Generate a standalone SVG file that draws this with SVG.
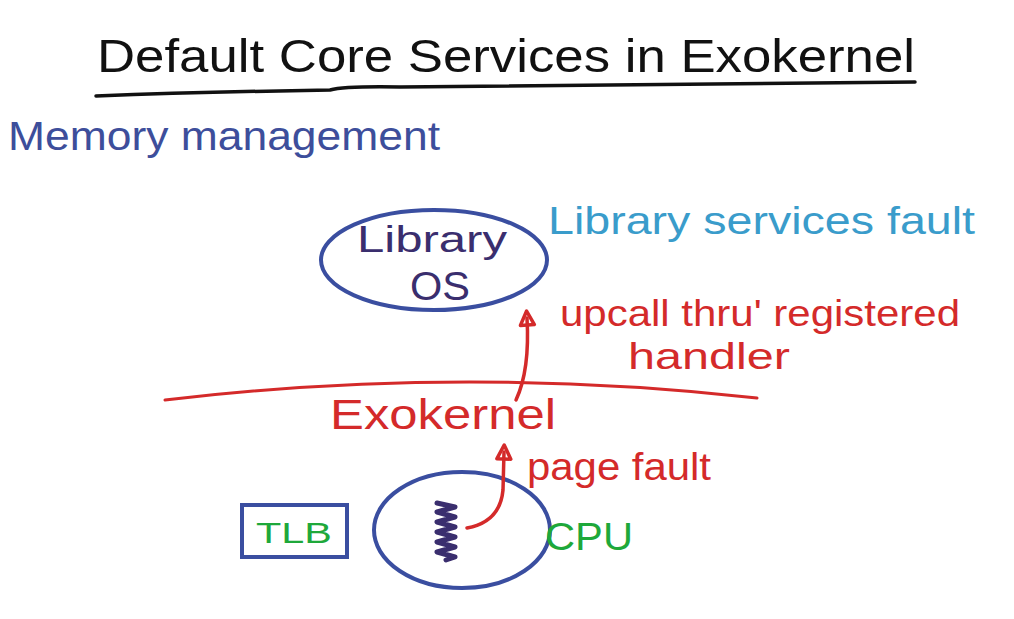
<svg xmlns="http://www.w3.org/2000/svg" width="1014" height="619" viewBox="0 0 1014 619">
<style>
text{font-family:"Liberation Sans","DejaVu Sans",sans-serif;}
.red{fill:#d42a2a;}
.blue{fill:#3d4e9b;}
.teal{fill:#3a9ccb;}
.green{fill:#1ea83a;}
.dark{fill:#3a2e6e;}
.line{fill:none;stroke-linecap:round;stroke-linejoin:round;}
.conn{fill:none;stroke:#d42a2a;stroke-width:3.5;stroke-linecap:round;stroke-linejoin:round;}
.shape{fill:none;stroke:#3a4ea0;stroke-width:4;}
</style>
<defs>
<marker id="ah" viewBox="0 0 20 20" refX="10" refY="10" markerWidth="20" markerHeight="20" orient="auto" markerUnits="userSpaceOnUse">
<path d="M3 3 L17 10 L3 17 Z" fill="none" stroke="#d42a2a" stroke-width="3.5" stroke-linejoin="round"/>
</marker>
</defs>
<rect width="1014" height="619" fill="#ffffff"/>
<g id="title">
<text x="97" y="72" font-size="46" fill="#111" textLength="818" lengthAdjust="spacingAndGlyphs">Default Core Services in Exokernel</text>
<path class="line" d="M96 96 Q200 92 330 90 Q345 86 400 87 Q650 84 915 82" stroke="#111" stroke-width="3.5"/>
</g>
<g id="memory-management">
<text x="8" y="150" font-size="40" class="blue" textLength="432" lengthAdjust="spacingAndGlyphs">Memory management</text>
</g>
<g id="library-os">
<ellipse cx="434" cy="260" rx="113" ry="50" class="shape"/>
<text x="432" y="252" font-size="36" class="dark" text-anchor="middle" textLength="150" lengthAdjust="spacingAndGlyphs">Library</text>
<text x="440" y="300" font-size="40" class="dark" text-anchor="middle" textLength="60" lengthAdjust="spacingAndGlyphs">OS</text>
</g>
<g id="library-services-fault">
<text x="548" y="234" font-size="38" class="teal" textLength="427" lengthAdjust="spacingAndGlyphs">Library services fault</text>
</g>
<g id="upcall-label">
<text x="560" y="326" font-size="36" class="red" textLength="400" lengthAdjust="spacingAndGlyphs">upcall thru' registered</text>
<text x="628" y="369" font-size="36" class="red" textLength="162" lengthAdjust="spacingAndGlyphs">handler</text>
</g>
<g id="exokernel">
<path class="line" d="M165 400 Q460 365 757 398" stroke="#d42a2a" stroke-width="3"/>
<text x="330" y="429" font-size="42" class="red" textLength="226" lengthAdjust="spacingAndGlyphs">Exokernel</text>
</g>
<g id="page-fault-label">
<text x="527" y="480" font-size="38" class="red" textLength="184" lengthAdjust="spacingAndGlyphs">page fault</text>
</g>
<g id="tlb">
<rect x="242" y="505" width="105" height="52" class="shape"/>
<text x="294" y="543" font-size="30" class="green" text-anchor="middle" textLength="76" lengthAdjust="spacingAndGlyphs">TLB</text>
</g>
<g id="cpu">
<ellipse cx="462" cy="530" rx="88" ry="58" class="shape"/>
<path class="line" d="M437 503 L455 507 L437 512 L455 517 L437 522 L455 527 L437 532 L455 537 L437 542 L455 547 L437 552 L455 557 L446 560" stroke="#3a2e6e" stroke-width="5"/>
<text x="545" y="550" font-size="38" class="green" textLength="88" lengthAdjust="spacingAndGlyphs">CPU</text>
</g>
<g id="connectors">
<path class="conn" d="M467 528 Q500 522 503 490 L504 452" marker-end="url(#ah)"/>
<path class="conn" d="M516 400 Q530 370 527 318" marker-end="url(#ah)"/>
</g>
</svg>
